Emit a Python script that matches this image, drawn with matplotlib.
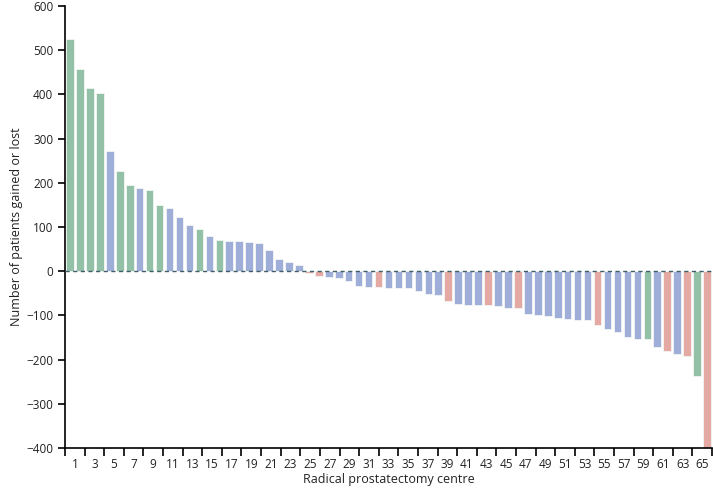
import matplotlib.pyplot as plt
import numpy as np

plt.rcParams['font.family'] = ['Open Sans', 'DejaVu Sans']

# centre number, change in patients, colour group
centres = list(range(1, 66))
gained_lost = [525, 457, 415, 404, 273, 227, 196, 189, 183, 149,
               142, 122, 104, 96, 80, 70, 68, 68, 65, 64,
               49, 27, 20, 13, -3, -10, -14, -16, -22, -33,
               -36, -36, -37, -38, -39, -44, -51, -54, -67, -74,
               -77, -77, -77, -78, -83, -83, -96, -98, -101, -106,
               -108, -111, -111, -122, -130, -138, -149, -153, -153, -171,
               -180, -187, -191, -236, -400]
groups = ['g', 'g', 'g', 'g', 'b', 'g', 'g', 'b', 'g', 'g',
          'b', 'b', 'b', 'g', 'b', 'g', 'b', 'b', 'b', 'b',
          'b', 'b', 'b', 'b', 'r', 'r', 'b', 'b', 'b', 'b',
          'b', 'r', 'b', 'b', 'b', 'b', 'b', 'b', 'r', 'b',
          'b', 'b', 'r', 'b', 'b', 'r', 'b', 'b', 'b', 'b',
          'b', 'b', 'b', 'r', 'b', 'b', 'b', 'b', 'g', 'b',
          'r', 'b', 'r', 'g', 'r']
tick_labels = [str(n) for n in range(1, 66, 2)]

palette = {'g': '#93c1a7', 'b': '#9eaed8', 'r': '#e3a9a2'}

fig = plt.figure(figsize=(7.13, 4.91), dpi=100)
ax = fig.add_axes([0.0912, 0.0876, 0.9074, 0.9002])

ax.bar(centres, gained_lost, width=0.76, color=[palette[g] for g in groups],
       edgecolor='#f2f6f4', linewidth=0.6, zorder=2)
ax.axhline(0, color='#3f5e6a', linestyle=(0, (3, 2.5)), linewidth=1.0, zorder=3)

ax.set_xlim(0.5, 65.5)
ax.set_ylim(-400, 600)
ax.set_yticks(np.arange(-400, 601, 100))

# tick marks split the axis into 33 slots, one label per slot
edges = 0.5 + np.arange(34) * 65 / 33
ax.set_xticks(edges)
ax.set_xticklabels([])
ax.set_xticks((edges[:-1] + edges[1:]) / 2, minor=True)
ax.set_xticklabels(tick_labels, minor=True)
ax.tick_params(axis='x', which='major', direction='out', length=6, width=1.2)
ax.tick_params(axis='x', which='minor', length=0, pad=7, labelsize=8.5, colors='#222222')
ax.tick_params(axis='y', direction='out', length=5, width=1.2, labelsize=8.5, colors='#222222')
ax.tick_params(colors='black', which='major', axis='both', labelcolor='#222222')

for side in ['top', 'right']:
    ax.spines[side].set_visible(False)
for side in ['left', 'bottom']:
    ax.spines[side].set_linewidth(1.2)

ax.set_xlabel('Radical prostatectomy centre', fontsize=9, color='#222222', labelpad=2)
ax.set_ylabel('Number of patients gained or lost', fontsize=9, color='#222222', labelpad=2)

fig.savefig('out.png', dpi=100)
